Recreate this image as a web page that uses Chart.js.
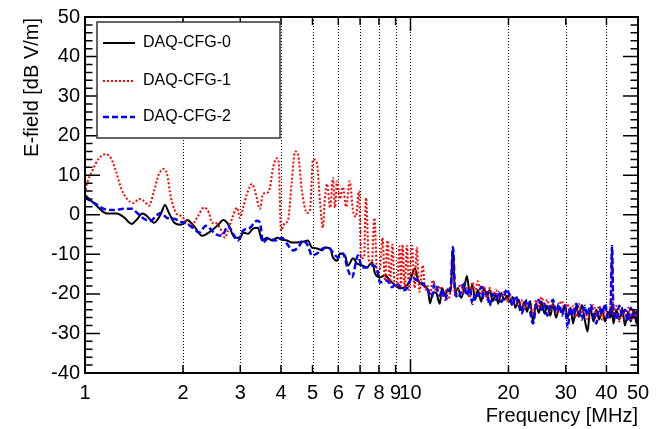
<!DOCTYPE html>
<html>
<head>
<meta charset="utf-8">
<script src="https://cdn.jsdelivr.net/npm/chart.js@4.4.1/dist/chart.umd.min.js"></script>
<style>
  html, body { margin: 0; padding: 0; background: #fff; }
  canvas { display: block; }
</style>
</head>
<body>
<canvas id="grafico" width="661" height="429" style="width:661px;height:429px"></canvas>
<script>
// Etiquetas del eje X (MHz)
var xTicks = [1, 2, 3, 4, 5, 6, 7, 8, 9, 10, 20, 30, 40, 50];
var xGrid = [2, 3, 4, 5, 6, 7, 8, 9, 10, 20, 30, 40];

// DAQ-CFG-0 (negro), parte baja
var freqCfg0 = [1.00, 1.07, 1.17, 1.25, 1.32, 1.39, 1.45, 1.50, 1.55, 1.63, 1.71, 1.76, 1.81, 1.88, 1.97, 2.06, 2.16, 2.29, 2.40,
    2.55, 2.66, 2.75, 2.89, 3.00, 3.06, 3.17, 3.28, 3.40, 3.50, 3.62, 3.75, 3.89, 4.03, 4.17, 4.32, 4.48, 4.68, 4.84, 4.98,
    5.16, 5.35, 5.46, 5.66, 5.78, 5.95, 6.07, 6.29, 6.43, 6.66, 6.85, 7.10, 7.35, 7.62, 7.78, 8.06, 8.35, 8.65, 8.96, 9.29,
    9.62, 9.97, 10.32, 10.55, 10.92, 11.32, 11.48, 11.73];
var dbCfg0 = [5.0, 2.8, 0.3, 0.3, -0.7, -2.3, -1.0, 0.3, -0.3, -2.0, 0.2, 2.5, 0.5, -2.0, -2.5, -1.3, -2.8, -5.3, -4.5,
    -2.8, -1.3, -2.3, -5.8, -5.8, -4.5, -4.8, -3.5, -3.3, -6.5, -5.8, -6.5, -5.8, -6.3, -6.5, -7.0, -7.0, -6.8, -6.5, -8.3,
    -8.5, -9.0, -8.3, -8.5, -10.8, -11.6, -9.8, -10.3, -12.8, -11.0, -12.3, -12.8, -13.3, -12.0, -14.8, -15.8, -15.3, -16.6, -17.8, -18.6,
    -18.3, -16.6, -13.6, -16.6, -17.8, -19.1, -22.4, -19.6];

// DAQ-CFG-1 (rojo), parte baja
var freqCfg1 = [1.00, 1.014, 1.051, 1.104, 1.160, 1.202, 1.245, 1.290, 1.346, 1.414, 1.465, 1.518, 1.573, 1.629, 1.688, 1.748, 1.786,
    1.837, 1.904, 1.972, 2.014, 2.117, 2.208, 2.321, 2.404, 2.455, 2.508, 2.598, 2.692, 2.75, 2.83, 2.93, 2.995, 3.06, 3.146,
    3.26, 3.33, 3.45, 3.52, 3.62, 3.70, 3.78, 3.89, 3.94, 4.00, 4.12, 4.20, 4.32, 4.42, 4.51, 4.64, 4.81, 4.91, 5.02, 5.16,
    5.27, 5.38, 5.46, 5.54, 5.66, 5.78, 5.86, 5.95, 6.07, 6.20, 6.35, 6.50, 6.66, 6.80, 6.95, 7.05, 7.20, 7.30, 7.45, 7.60,
    7.75, 7.90, 8.05, 8.20, 8.35, 8.50, 8.65, 8.80, 8.95, 9.10, 9.25, 9.35, 9.45, 9.60, 9.75, 9.90, 10.1, 10.3, 10.45, 10.65,
    10.9, 11.1, 11.3, 11.5, 11.7];
var dbCfg1 = [5.3, 7.8, 11.0, 14.3, 15.3, 14.3, 11.0, 6.8, 4.0, 3.0, 4.0, 3.5, 2.3, 6.0, 10.3, 11.6, 10.3,
    4.3, 0.5, -0.3, -1.0, -2.8, -0.8, 1.8, 0.5, -2.0, -2.0, -3.3, -5.8, -4.0, -1.0, 1.8, -0.8, 1.8, 5.3,
    7.8, 6.0, 1.5, 5.3, 5.5, 6.8, 11.8, 14.3, 12.8, -4.0, -2.0, -1.5, 8.5, 16.0, 15.3, 6.0, 0.5, 1.0, 14.0, 13.0,
    3.5, -3.3, 4.3, 7.8, 1.8, 9.3, 1.8, 8.5, 4.0, 7.0, 2.0, 8.5, 1.0, -0.5, 6.0, -11.0, -10.8, 4.3, -11.6, -12.3,
    -0.8, -14.8, -14.0, -5.8, -16.6, -6.5, -17.3, -7.5, -18.3, -17.5, -8.0, -18.0, -7.5, -18.5, -7.8, -19.0, -7.8, -18.5, -8.3, -19.5,
    -12.8, -19.0, -18.0, -20.5, -16.5];

// DAQ-CFG-2 (azul), parte baja
var freqCfg2 = [1.00, 1.066, 1.144, 1.228, 1.318, 1.394, 1.445, 1.518, 1.595, 1.652, 1.712, 1.786, 1.877, 1.972, 2.058, 2.162, 2.24,
    2.353, 2.455, 2.508, 2.636, 2.75, 2.85, 2.95, 3.06, 3.21, 3.38, 3.45, 3.52, 3.65, 3.83, 4.03, 4.17, 4.36, 4.51, 4.68, 4.84,
    4.98, 5.16, 5.38, 5.58, 5.78, 5.99, 6.20, 6.43, 6.61, 6.90, 7.10, 7.35, 7.62, 7.89, 8.06, 8.47, 8.77, 9.09, 9.42, 9.76,
    10.11, 10.47, 10.85, 11.23, 11.65, 11.85];
var dbCfg2 = [4.3, 3.0, 1.5, 1.2, 1.5, 1.5, 0.5, -1.0, -1.5, -0.3, 0.5, -0.8, -1.0, -1.8, -2.3, -3.5, -4.5,
    -2.8, -4.0, -4.8, -5.3, -2.8, -4.8, -6.5, -4.0, -3.3, -1.5, -2.0, -7.0, -6.0, -6.5, -5.8, -7.3, -9.0, -8.3, -6.5, -7.8,
    -10.3, -9.8, -8.5, -8.3, -9.5, -10.8, -9.8, -14.0, -15.8, -10.3, -13.3, -13.3, -12.8, -13.6, -17.1, -16.6, -18.3, -17.3, -19.1, -18.6,
    -15.8, -16.6, -17.3, -18.6, -20.8, -17.3];

// Parte alta (12 - 50 MHz), frecuencias compartidas
var freqHigh = [12.0, 12.3, 12.5, 12.8, 13.0, 13.3, 13.5, 13.7, 14.0, 14.3, 14.6, 14.9, 15.2, 15.5, 15.8, 16.1, 16.5, 16.8,
    17.2, 17.5, 17.9, 18.3, 18.6, 19.0, 19.4, 19.8, 20.2, 20.6, 21.0, 21.5, 21.9, 22.4, 22.8, 23.3, 23.8, 24.3, 24.8, 25.3,
    25.8, 26.3, 26.9, 27.4, 28.0, 28.6, 29.2, 29.8, 30.4, 31.0, 31.6, 32.3, 32.9, 33.6, 34.3, 35.0, 35.7, 36.5, 37.2, 38.0,
    38.8, 39.6, 40.4, 41.2, 41.6, 42.0, 42.9, 43.8, 44.7, 45.6, 46.6, 47.5, 48.5, 49.5, 50.0];
var dbCfg0High = [-19.8, -22.5, -18.5, -20.5, -18.8, -19.5, -8.0, -19.8, -18.5, -21.0, -19.0, -15.5, -19.5, -17.8, -21.5, -19.0, -22.0, -18.5,
    -20.8, -19.0, -21.8, -20.0, -22.5, -19.8, -21.5, -20.5, -22.0, -20.8, -23.5, -21.5, -24.0, -22.0, -24.5, -21.8, -27.0, -22.5, -24.8, -22.0,
    -25.0, -23.0, -25.5, -22.5, -26.0, -23.5, -24.5, -22.8, -26.0, -23.5, -27.5, -23.0, -25.8, -22.8, -26.5, -29.5, -23.5, -27.0, -24.0, -26.5,
    -23.8, -27.0, -24.5, -26.0, -23.0, -27.5, -24.0, -26.5, -23.5, -28.0, -24.5, -27.0, -24.0, -27.5, -25.0];
var dbCfg1High = [-19.5, -18.0, -20.5, -19.0, -21.5, -18.5, -12.0, -20.5, -19.0, -17.5, -20.0, -18.5, -21.0, -17.0, -19.5, -16.8, -20.0, -18.0,
    -21.5, -18.5, -20.5, -19.0, -21.0, -20.5, -19.5, -22.0, -20.0, -22.5, -21.0, -23.5, -21.5, -24.0, -22.0, -23.0, -25.5, -21.5, -23.5, -20.8,
    -23.0, -21.5, -24.5, -22.0, -25.0, -23.0, -21.8, -24.5, -22.5, -25.5, -23.0, -26.0, -22.5, -25.0, -23.5, -26.5, -24.0, -22.8, -25.5, -23.0,
    -26.5, -24.0, -25.0, -22.5, -9.0, -25.5, -23.0, -27.0, -24.0, -25.5, -23.5, -26.5, -24.5, -26.0, -25.0];
var dbCfg2High = [-18.0, -20.5, -19.0, -21.5, -19.5, -18.0, -8.2, -18.5, -21.0, -19.5, -17.5, -20.5, -18.5, -22.5, -19.8, -20.5, -18.2, -21.0,
    -19.5, -23.0, -20.0, -21.5, -19.5, -22.0, -20.5, -18.8, -21.0, -23.0, -20.5, -22.5, -25.0, -23.0, -21.5, -24.5, -27.5, -23.0, -21.5, -24.0,
    -22.5, -25.5, -23.0, -21.5, -24.5, -22.5, -25.5, -23.0, -28.5, -23.5, -25.5, -22.5, -24.0, -26.5, -23.0, -25.5, -22.8, -25.0, -27.5, -23.5,
    -25.0, -22.5, -26.0, -23.5, -7.8, -24.0, -26.5, -23.0, -25.5, -24.0, -27.0, -23.5, -26.0, -24.5, -26.5];

function puntos(fLow, dLow, dHigh) {
    var pts = [];
    for (var i = 0; i < fLow.length; i++) pts.push({ x: fLow[i], y: dLow[i] });
    for (var j = 0; j < freqHigh.length; j++) pts.push({ x: freqHigh[j], y: dHigh[j] });
    return pts;
}

var fuente = 'Liberation Sans, Arial, Helvetica, sans-serif';

var series = [
    { label: 'DAQ-CFG-0', data: puntos(freqCfg0, dbCfg0, dbCfg0High), color: '#000000', dash: [], width: 2 },
    { label: 'DAQ-CFG-1', data: puntos(freqCfg1, dbCfg1, dbCfg1High), color: '#ff0000', dash: [2, 2], width: 2 },
    { label: 'DAQ-CFG-2', data: puntos(freqCfg2, dbCfg2, dbCfg2High), color: '#0000ff', dash: [6, 3], width: 2.5 }
];

// Marco estilo ROOT: rejilla punteada, ticks interiores, leyenda y títulos
var marcoRoot = {
    id: 'marcoRoot',
    beforeDatasetsDraw: function (chart) {
        var c = chart.ctx, a = chart.chartArea, sx = chart.scales.x;
        c.save();
        c.strokeStyle = '#000';
        c.lineWidth = 1;
        c.setLineDash([1, 2]);
        xGrid.forEach(function (v) {
            var px = Math.round(sx.getPixelForValue(v)) + 0.5;
            c.beginPath();
            c.moveTo(px, a.top);
            c.lineTo(px, a.bottom);
            c.stroke();
        });
        c.restore();
    },
    afterDatasetsDraw: function (chart) {
        var c = chart.ctx, a = chart.chartArea, sx = chart.scales.x, sy = chart.scales.y;
        c.save();
        c.strokeStyle = '#000';
        c.setLineDash([]);
        c.lineWidth = 1.5;
        // ticks del eje Y (izquierda y derecha)
        for (var v = -40; v <= 50; v += 2) {
            var py = sy.getPixelForValue(v);
            var len = (v % 10 === 0) ? 15 : 7.5;
            c.beginPath();
            c.moveTo(a.left, py); c.lineTo(a.left + len, py);
            c.moveTo(a.right, py); c.lineTo(a.right - len, py);
            c.stroke();
        }
        // ticks del eje X (abajo y arriba)
        xTicks.forEach(function (t) {
            var px = sx.getPixelForValue(t);
            var len = (t === 10) ? 14 : 8;
            c.beginPath();
            c.moveTo(px, a.bottom); c.lineTo(px, a.bottom - len);
            c.moveTo(px, a.top); c.lineTo(px, a.top + len);
            c.stroke();
        });
        // marco
        c.lineWidth = 2;
        c.strokeRect(a.left, a.top, a.right - a.left, a.bottom - a.top);

        // leyenda
        c.fillStyle = '#fff';
        c.fillRect(97, 22, 183, 116);
        c.strokeStyle = '#333';
        c.lineWidth = 1.5;
        c.strokeRect(97, 22, 183, 116);
        var ys = [43, 81, 117];
        series.forEach(function (s, i) {
            c.strokeStyle = s.color;
            c.lineWidth = s.width;
            c.setLineDash(s.dash);
            c.beginPath();
            c.moveTo(103, ys[i]); c.lineTo(135, ys[i]);
            c.stroke();
            c.setLineDash([]);
            c.fillStyle = '#000';
            c.font = '16px ' + fuente;
            c.textAlign = 'left';
            c.textBaseline = 'middle';
            c.fillText(s.label, 143, ys[i]);
        });

        // títulos de ejes
        c.fillStyle = '#000';
        c.font = '20px ' + fuente;
        c.textAlign = 'right';
        c.textBaseline = 'middle';
        c.fillText('Frequency [MHz]', a.right, 416);
        c.translate(32, a.top + 1);
        c.rotate(-Math.PI / 2);
        c.fillText('E-field [dB V/m]', 0, 0);
        c.restore();
    }
};

document.addEventListener('DOMContentLoaded', function () {
    var ctx = document.getElementById('grafico').getContext('2d');
    new Chart(ctx, {
        type: 'line',
        data: {
            datasets: series.map(function (s, i) {
                return {
                    label: s.label,
                    data: s.data,
                    borderColor: s.color,
                    borderWidth: s.width,
                    borderDash: s.dash,
                    pointRadius: 0,
                    fill: false,
                    cubicInterpolationMode: 'monotone',
                    order: 2 - i // el azul queda encima
                };
            })
        },
        options: {
            responsive: false,
            animation: false,
            layout: { padding: { top: 15, right: 23, left: 0, bottom: 0 } },
            plugins: { legend: { display: false }, tooltip: { enabled: false } },
            scales: {
                x: {
                    type: 'logarithmic',
                    min: 1,
                    max: 50,
                    afterBuildTicks: function (s) { s.ticks = xTicks.map(function (v) { return { value: v }; }); },
                    afterFit: function (s) { s.height = 56; },
                    ticks: {
                        autoSkip: false,
                        maxRotation: 0,
                        padding: 8,
                        color: '#000',
                        font: { family: fuente, size: 20 },
                        callback: function (v) { return String(v); }
                    },
                    grid: { display: false, drawTicks: false },
                    border: { display: false }
                },
                y: {
                    min: -40,
                    max: 50,
                    afterFit: function (s) { s.width = 85; },
                    ticks: {
                        stepSize: 10,
                        padding: 5,
                        color: '#000',
                        font: { family: fuente, size: 20 }
                    },
                    grid: { display: false, drawTicks: false },
                    border: { display: false }
                }
            }
        },
        plugins: [marcoRoot]
    });
});
</script>
</body>
</html>
